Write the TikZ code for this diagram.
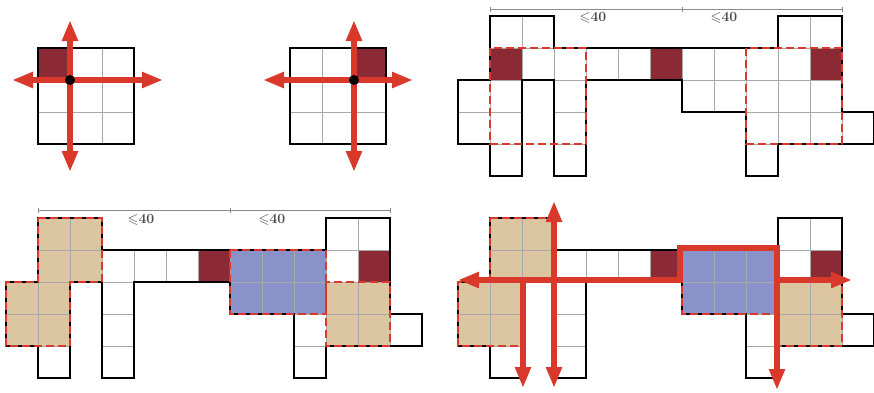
\documentclass[tikz,border=0pt]{standalone}
\usepackage{amssymb}
\usetikzlibrary{arrows.meta}
\definecolor{redl}{HTML}{D8392B}
\definecolor{darkc}{HTML}{8B2934}
\definecolor{tanc}{HTML}{DCC6A2}
\definecolor{bluec}{HTML}{8A92CA}
\definecolor{gridc}{HTML}{A8A8A8}
\definecolor{dimc}{HTML}{8A8A8A}
\definecolor{lblc}{HTML}{4A4A4A}
\tikzset{
  cellgrid/.style={draw=gridc, line width=0.9pt},
  outline/.style={draw=black, line width=2.6pt, line join=miter},
  reddash/.style={draw=redl, line width=2pt, dash pattern=on 8pt off 4pt},
  redarrow/.style={draw=redl, line width=5.5pt, line join=miter},
  >={Triangle[length=21pt,width=15pt]},
  dimline/.style={draw=dimc, line width=0.8pt},
  lbl/.style={text=lblc, font=\fontsize{14}{14}\selectfont\boldmath\bfseries, inner sep=0pt},
  dot/.style={fill=black}
}
\def\cellsAll{1/0,2/0,10/0,11/0,1/1,2/1,3/1,4/1,5/1,6/1,7/1,8/1,9/1,10/1,11/1,0/2,1/2,3/2,7/2,8/2,9/2,10/2,11/2,0/3,1/3,3/3,9/3,10/3,11/3,12/3,1/4,3/4,9/4}
\def\tanCells{1/0,2/0,1/1,2/1,0/2,1/2,0/3,1/3,10/2,11/2,10/3,11/3}
\def\blueCells{7/1,8/1,9/1,7/2,8/2,9/2}
\newcommand{\shapeoutline}{(1,0) -- (3,0) -- (3,1) -- (10,1) -- (10,0) -- (12,0) -- (12,3) -- (13,3) -- (13,4) -- (10,4) -- (10,5) -- (9,5) -- (9,3) -- (7,3) -- (7,2) -- (4,2) -- (4,5) -- (3,5) -- (3,2) -- (2,2) -- (2,5) -- (1,5) -- (1,4) -- (0,4) -- (0,2) -- (1,2) -- cycle}
\newcommand{\colouredshape}{%
  \foreach \c/\r in \cellsAll {\fill[white] (\c,\r) rectangle ++(1,1);}
  \foreach \c/\r in \tanCells {\fill[tanc] (\c,\r) rectangle ++(1,1);}
  \foreach \c/\r in \blueCells {\fill[bluec] (\c,\r) rectangle ++(1,1);}
  \foreach \c/\r in {6/1,11/1} {\fill[darkc] (\c,\r) rectangle ++(1,1);}
  \foreach \c/\r in \cellsAll {\draw[cellgrid] (\c,\r) rectangle ++(1,1);}
  \draw[outline] \shapeoutline;
  \draw[reddash] (1,0) -- (3,0) -- (3,2) -- (2,2) -- (2,4) -- (0,4) -- (0,2) -- (1,2) -- cycle;
  \draw[reddash] (7,1) rectangle (10,3);
  \draw[reddash] (10,2) rectangle (12,4);
}
\newcommand{\smallgrid}{%
  \foreach \c in {0,1,2} {\foreach \r in {0,1,2} {\draw[cellgrid] (\c,\r) rectangle ++(1,1);}}
  \draw[outline] (0,0) rectangle (3,3);
}
\begin{document}
\begin{tikzpicture}[x=1pt,y=-1pt]
\useasboundingbox (0,0) rectangle (874,392);
\fill[white] (0,0) rectangle (874,392);

% ---------- panel 1 ----------
\begin{scope}[shift={(38,48)},x=32pt,y=-32pt]
  \fill[darkc] (0,0) rectangle (1,1);
  \smallgrid
\end{scope}
\coordinate (p1l) at (12,80);
\coordinate (p1r) at (163,80);
\coordinate (p1t) at (70,20);
\coordinate (p1b) at (70,172);
\draw[redarrow,<->] (p1l) -- (p1r);
\draw[redarrow,<->] (p1t) -- (p1b);
\fill[dot] (70,80) circle[radius=5pt];

% ---------- panel 2 ----------
\begin{scope}[shift={(290,48)},x=32pt,y=-32pt]
  \fill[darkc] (2,0) rectangle (3,1);
  \smallgrid
\end{scope}
\coordinate (p2l) at (263,80);
\coordinate (p2r) at (413,80);
\coordinate (p2t) at (354,20);
\coordinate (p2b) at (354,172);
\draw[redarrow,<->] (p2l) -- (p2r);
\draw[redarrow,<->] (p2t) -- (p2b);
\fill[dot] (354,80) circle[radius=5pt];

% ---------- panel 3 ----------
\begin{scope}[shift={(458,16)},x=32pt,y=-32pt]
  \foreach \c/\r in \cellsAll {\fill[white] (\c,\r) rectangle ++(1,1);}
  \foreach \c/\r in {1/1,6/1,11/1} {\fill[darkc] (\c,\r) rectangle ++(1,1);}
  \foreach \c/\r in \cellsAll {\draw[cellgrid] (\c,\r) rectangle ++(1,1);}
  \draw[outline] \shapeoutline;
  \draw[reddash] (1,1) rectangle (4,4);
  \draw[reddash] (9,1) rectangle (12,4);
\end{scope}
\draw[dimline] (490,9) -- (842,9);
\foreach \xx in {490,682,842} {\draw[dimline] (\xx,6.5) -- (\xx,11.5);}
\node[lbl] (t1) at (593,18) {$\leqslant$40};
\node[lbl] (t2) at (724,18) {$\leqslant$40};

% ---------- panel 4 ----------
\begin{scope}[shift={(6,218)},x=32pt,y=-32pt]
  \colouredshape
\end{scope}
\draw[dimline] (38,210) -- (390,210);
\foreach \xx in {38,230,390} {\draw[dimline] (\xx,207.5) -- (\xx,212.5);}
\node[lbl] (t3) at (141,220) {$\leqslant$40};
\node[lbl] (t4) at (272,220) {$\leqslant$40};

% ---------- panel 5 ----------
\begin{scope}[shift={(458,218)},x=32pt,y=-32pt]
  \colouredshape
\end{scope}
\coordinate (a1) at (458,280);
\coordinate (a2) at (680,280);
\coordinate (a3) at (680,248);
\coordinate (a4) at (777,248);
\coordinate (a5) at (777,390);
\coordinate (b1) at (777,280);
\coordinate (b2) at (852,280);
\coordinate (c1) at (523,280);
\coordinate (c2) at (523,388);
\coordinate (d1) at (554,201);
\coordinate (d2) at (554,388);
\draw[redarrow,<->] (a1) -- (a2) -- (a3) -- (a4) -- (a5);
\draw[redarrow,->] (b1) -- (b2);
\draw[redarrow,->] (c1) -- (c2);
\draw[redarrow,<->] (d1) -- (d2);
\end{tikzpicture}
\end{document}
